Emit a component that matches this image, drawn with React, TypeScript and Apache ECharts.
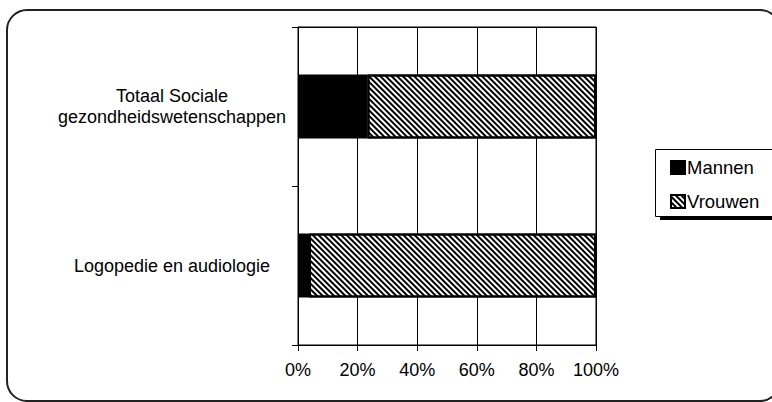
import React, { useEffect, useRef } from "react";
import * as echarts from "echarts";

const categories = ["Totaal Sociale\ngezondheidswetenschappen", "Logopedie en audiologie"];
const mannen = [23.3, 3.7];
const vrouwen = [76.7, 96.3];
const xTicks = [0, 20, 40, 60, 80, 100];
const seriesNames = ["Mannen", "Vrouwen"];

const FONT = "'Liberation Sans', Arial, sans-serif";
const GRID = { left: 298, top: 27, width: 298, height: 318 };

export default function App() {
  const ref = useRef<HTMLDivElement>(null);
  useEffect(() => {
    document.body.style.margin = "0";
    const chart = echarts.init(ref.current!, null, { renderer: "svg" });
    const hatch = {
      symbol: "rect",
      symbolSize: 1,
      dashArrayX: [[1, 0]],
      dashArrayY: [1.2, 1.2],
      rotation: Math.PI / 4,
      color: "#000",
      backgroundColor: "#fff",
    };
    chart.setOption({
      animation: false,
      backgroundColor: "#fff",
      textStyle: { fontFamily: FONT },
      grid: {
        ...GRID,
        containLabel: false,
        show: true,
        borderColor: "#000",
        borderWidth: 1,
        backgroundColor: "transparent",
      },
      xAxis: {
        type: "value",
        min: xTicks[0],
        max: xTicks[xTicks.length - 1],
        interval: 20,
        axisLine: { show: true, lineStyle: { color: "#000", width: 1 } },
        axisTick: { show: true, length: 6, lineStyle: { color: "#000" } },
        splitLine: { show: true, lineStyle: { color: "#000", width: 1 } },
        axisLabel: {
          formatter: "{value}%",
          color: "#000",
          fontSize: 18,
          fontFamily: FONT,
          margin: 16,
        },
      },
      yAxis: {
        type: "category",
        inverse: true,
        data: categories,
        axisLine: { show: true, lineStyle: { color: "#000", width: 1 } },
        axisTick: { show: true, length: 6, lineStyle: { color: "#000" } },
        splitLine: { show: false },
        axisLabel: {
          color: "#000",
          fontSize: 18,
          lineHeight: 21,
          fontFamily: FONT,
          margin: 126,
          align: "center",
        },
      },
      legend: {
        orient: "vertical",
        left: 670,
        top: 158,
        icon: "rect",
        itemWidth: 14,
        itemHeight: 13,
        itemGap: 15,
        z: 10,
        padding: 0,
        textStyle: { fontSize: 18.5, color: "#000", fontFamily: FONT, padding: [0, 0, 0, -3] },
        data: seriesNames,
      },
      graphic: [
        {
          type: "rect",
          z: -1,
          silent: true,
          shape: { x: 7, y: 10, width: 773, height: 391, r: 20 },
          style: { fill: "none", stroke: "#222", lineWidth: 2 },
        },
        {
          type: "line",
          z: 5,
          silent: true,
          shape: { x1: GRID.left - 6, y1: GRID.top + 0.5, x2: GRID.left + GRID.width, y2: GRID.top + 0.5 },
          style: { stroke: "#000", lineWidth: 1 },
        },
        {
          type: "rect",
          z: 1,
          silent: true,
          shape: { x: 660, y: 216, width: 160, height: 4 },
          style: { fill: "#000" },
        },
        {
          type: "rect",
          z: 2,
          silent: true,
          shape: { x: 655.5, y: 149.5, width: 160, height: 67 },
          style: { fill: "#fff", stroke: "#000", lineWidth: 1 },
        },
      ],
      series: [
        {
          name: seriesNames[0],
          type: "bar",
          stack: "total",
          barWidth: 64,
          data: mannen,
          itemStyle: { color: "#000", borderColor: "#000", borderWidth: 1.5 },
        },
        {
          name: seriesNames[1],
          type: "bar",
          stack: "total",
          barWidth: 64,
          data: vrouwen,
          itemStyle: { color: "#fff", borderColor: "#000", borderWidth: 2, decal: hatch },
        },
      ],
    });
    return () => chart.dispose();
  }, []);
  return <div ref={ref} style={{ width: 772, height: 402 }} />;
}
